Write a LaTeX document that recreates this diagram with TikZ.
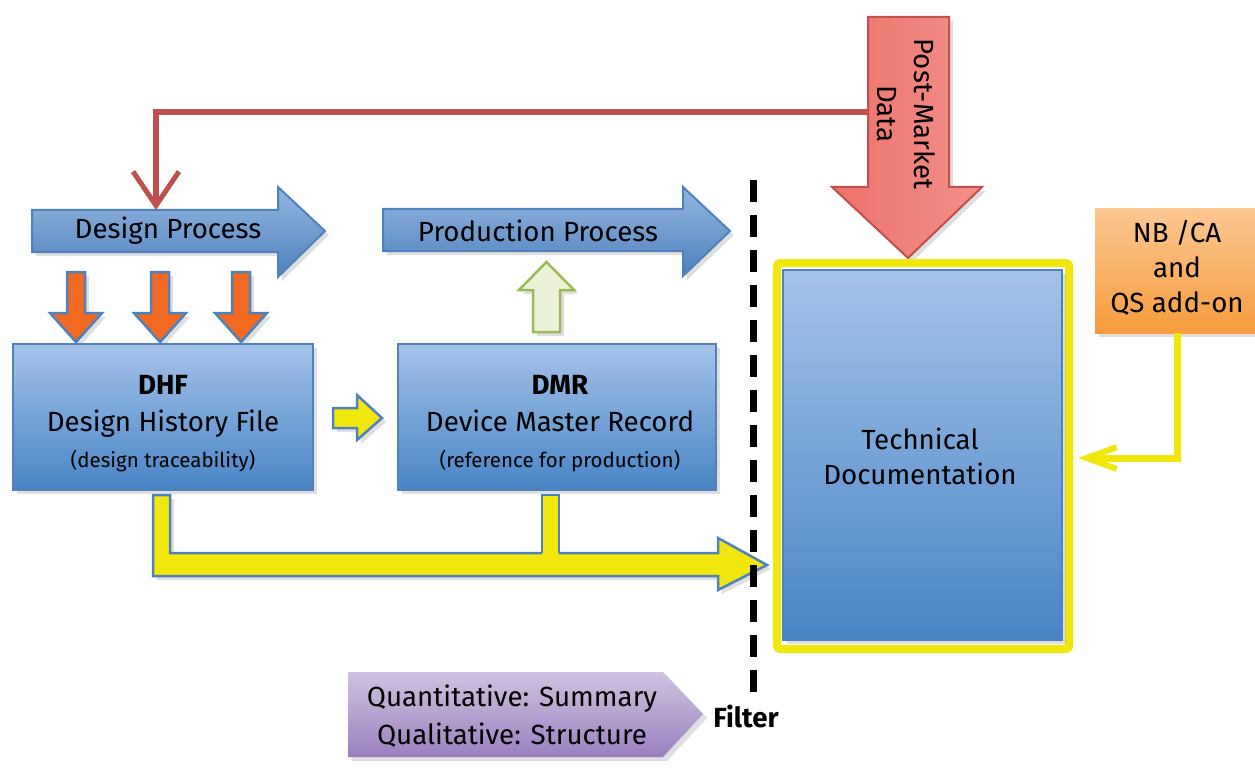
\documentclass[tikz,border=0pt]{standalone}
\usepackage{fontspec}
\setmainfont{Fira Sans}
\usetikzlibrary{shadows,arrows.meta}
\definecolor{bluebd}{HTML}{4F81BD}
\definecolor{bluetop}{HTML}{A4C3E8}
\definecolor{bluebot}{HTML}{4884C5}
\definecolor{redln}{HTML}{C0504D}
\definecolor{pmleft}{HTML}{EC726A}
\definecolor{pmright}{HTML}{F3908B}
\definecolor{orfill}{HTML}{F26A22}
\definecolor{yel}{HTML}{F2E70C}
\definecolor{grfill}{HTML}{EBF2D8}
\definecolor{grbd}{HTML}{9BBB59}
\definecolor{nbtop}{HTML}{FBC792}
\definecolor{nbbot}{HTML}{F69C3C}
\definecolor{putop}{HTML}{D0C2E0}
\definecolor{pubot}{HTML}{9A80BE}
\newcommand{\mainsz}{\fontsize{27.7}{34}\selectfont}
\newcommand{\smallsz}{\fontsize{20.5}{24}\selectfont}
\begin{document}
\begin{tikzpicture}[x=1pt,y=-1pt,
  shd/.style={drop shadow={opacity=0.25,shadow xshift=4pt,shadow yshift=-4pt}},
  bluearrow/.style={top color=bluetop!80!bluebd,bottom color=bluebd,draw=bluebd,line width=2pt,shd},
  bluebox/.style={top color=bluetop,bottom color=bluebot,draw=bluebd,line width=2.5pt,shd,inner sep=0pt},
  orarrow/.style={fill=orfill,draw=bluebd,line width=2.5pt,shd},
  yelarrow/.style={fill=yel,draw=bluebd,line width=2.5pt,shd},
  lbl/.style={font=\mainsz,inner sep=0pt,align=center},
  ]
\useasboundingbox (0,0) rectangle (1255,778);

% Post-market arrow
\path[left color=pmleft,right color=pmright,draw=redln,line width=2pt,shd]
  (868,17) -- (949,17) -- (949,187) -- (982,187) -- (908,258) -- (832,187) -- (868,187) -- cycle;
\node[lbl,rotate=-90] (pm) at (906,114) {Post-Market\\[3pt]Data};
\coordinate (pmin) at (869,112);

% Design process arrow
\path[bluearrow] (32,210) -- (278,210) -- (278,187) -- (325,231) -- (278,277) -- (278,252) -- (32,252) -- cycle;
\node[lbl] (dp) at (168,231) {Design Process};
\coordinate (dptop) at (156,210);

% Production process arrow
\path[bluearrow] (383,209) -- (683,209) -- (683,187) -- (730,231) -- (683,276) -- (683,251) -- (383,251) -- cycle;
\node[lbl] (pp) at (538,231) {Production Process};

% red feedback connector
\draw[redln,line width=6.5pt,-{Straight Barb[length=34pt,width=46pt,line width=5pt]}]
  (pmin) -| (dptop);

% orange arrows
\foreach \cx in {76,160,241}{
  \path[orarrow] (\cx-9,272) -- (\cx+9,272) -- (\cx+9,313) -- (\cx+26,313) -- (\cx,342) -- (\cx-26,313) -- (\cx-9,313) -- cycle;
}

% DHF box
\node[bluebox,minimum width=300pt,minimum height=146pt] (dhf) at (163,417) {};
\node[lbl] (dhft) at (163,424) {\textbf{DHF}\\[3pt]Design History File\\[2pt]{\smallsz(design traceability)}};

% DMR box
\node[bluebox,minimum width=318pt,minimum height=146pt] (dmr) at (557,417) {};
\node[lbl] (dmrt) at (560,424) {\textbf{DMR}\\[3pt]Device Master Record\\[2pt]{\smallsz(reference for production)}};

% green up arrow
\path[fill=grfill,draw=grbd,line width=2.5pt,shd]
  (533,332) -- (560,332) -- (560,290) -- (574,290) -- (546.5,262) -- (519,290) -- (533,290) -- cycle;

% small yellow arrow
\path[yelarrow] (333,408) -- (357,408) -- (357,395) -- (382,418) -- (357,440) -- (357,428) -- (333,428) -- cycle;

% big yellow arrow
\path[yelarrow] (153,495) -- (153,576) -- (718,576) -- (718,590) -- (767,565) -- (718,538) -- (718,553) -- (170,553) -- (170,495) -- cycle;
\fill[yel] (542,495) rectangle (559,556);
\draw[bluebd,line width=2.5pt] (542,553) -- (542,495) -- (559,495) -- (559,553);

% dashed filter line
\draw[black,line width=7pt,dash pattern=on 22pt off 13pt] (753,180) -- (753,692);
\node[font=\mainsz\bfseries,inner sep=0pt] (filter) at (746,716) {Filter};

% Technical documentation
\draw[yel,line width=8pt,rounded corners=3pt] (777,263) rectangle (1069,649);
\node[bluebox,minimum width=279pt,minimum height=370pt] (td) at (922.5,455) {};
\node[lbl] (tdt) at (920,456) {Technical\\[1pt]Documentation};
\coordinate (tdin) at (1078,458);

% NB box
\path[top color=nbtop,bottom color=nbbot,shd] (1095,209) rectangle (1255,333);
\node[lbl] (nb) at (1177,268) {NB /CA\\[1pt]and\\[1pt]QS add-on};
\coordinate (nbout) at (1177,333);
\draw[yel,line width=7pt,-{Straight Barb[length=30pt,width=22pt,line width=6pt]}] (nbout) |- (tdin);

% purple pentagon
\path[top color=putop,bottom color=pubot,shd] (348,672) -- (663,672) -- (703,714) -- (663,757) -- (348,757) -- cycle;
\node[lbl] (qq) at (512,716) {Quantitative: Summary\\[4pt]Qualitative: Structure};
\end{tikzpicture}
\end{document}
